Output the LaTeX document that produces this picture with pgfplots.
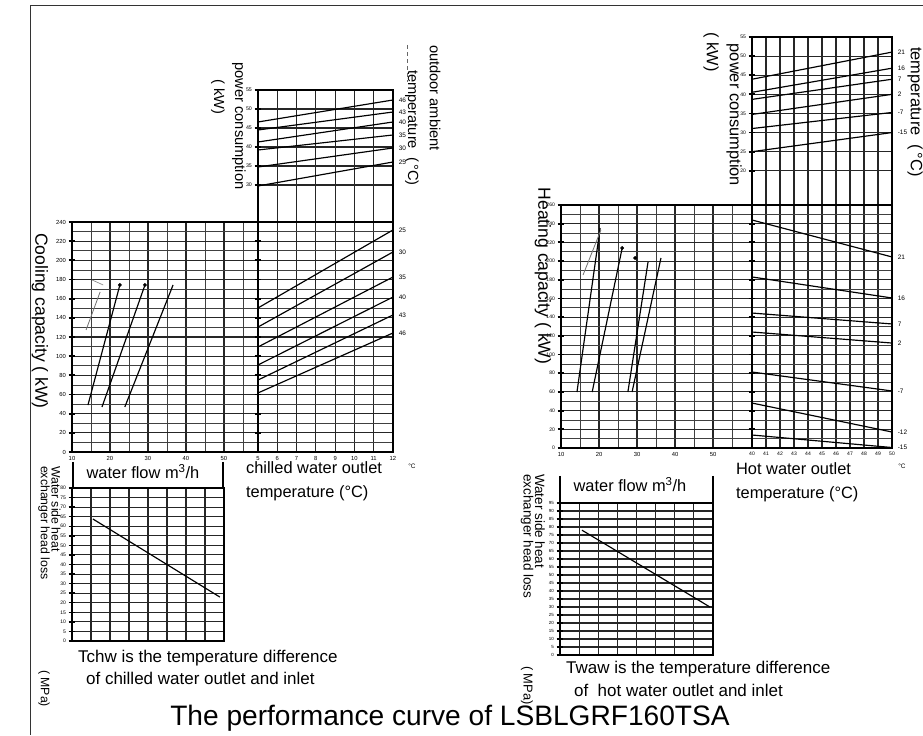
\documentclass[border=0pt]{standalone}
\usepackage{pgfplots}
\pgfplotsset{compat=1.18}
\usepackage{fontspec}
\setmainfont{Liberation Sans}
\newcommand\fs[1]{\fontsize{#1}{#1}\selectfont}
\tikzset{lab/.style={anchor=west, font=\fs{5.5}, xshift=0.5mm}}
\pgfplotsset{
  panel/.style={
    scale only axis, anchor=south west,
    axis line style={black, line width=1.1pt},
    grid=both,
    major grid style={black!85, line width=0.9pt},
    minor grid style={black!75, line width=0.55pt},
    tick align=center,
    major tick length=2mm,
    minor tick length=0pt,
    xtick style={draw=none},
    ytick style={black, line width=1.6pt},
    ytick pos=left, xtick pos=bottom,
    tick label style={font=\fs{5}},
    xticklabel style={yshift=0.9mm},
    yticklabel style={xshift=0.4mm},
    /pgf/number format/assume math mode=true,
    clip=false,
  },
  curve/.style={black, line width=1pt, no marks},
}
\begin{document}
\begin{tikzpicture}
% ---------- cooling capacity vs water flow ----------
\begin{axis}[panel, at={(21.6mm,84.9mm)}, width=55.8mm, height=69mm,
  xmin=10, xmax=58.95, ymin=0, ymax=240,
  xtick={10,20,...,50}, minor xtick={15,25,...,55},
  ytick={0,20,...,240}, minor ytick={10,30,...,230}]
  \addplot[curve] coordinates {(14.2,49) (22.6,174.3)};
  \addplot[curve] coordinates {(17.9,47) (29.2,174.3)};
  \addplot[curve] coordinates {(23.9,47) (36.6,174.3)};
  \addplot[black!55, line width=0.7pt] coordinates {(13.7,127.3) (17.4,167)};
  \addplot[black!45, line width=0.6pt] coordinates {(15.3,179.5) (18.2,174.3)};
  \addplot[only marks, mark=*, mark size=1.4pt, black] coordinates {(22.6,174.3) (29.2,174.3)};
\end{axis}
% ---------- cooling capacity vs chilled water outlet temperature ----------
\begin{axis}[panel, at={(77.4mm,84.9mm)}, width=40.5mm, height=69mm,
  xmin=5, xmax=12, ymin=0, ymax=240,
  xtick={5,...,12},
  ytick={0,20,...,240}, minor ytick={10,30,...,230}, yticklabels={}]
  \addplot[curve] coordinates {(5,150.3) (12,231.7)};
  \addplot[curve] coordinates {(5,130.4) (12,208.7)};
  \addplot[curve] coordinates {(5,109.6) (12,182.6)};
  \addplot[curve] coordinates {(5,90.8) (12,161.7)};
  \addplot[curve] coordinates {(5,75.1) (12,143.0)};
  \addplot[curve] coordinates {(5,61.6) (12,124.2)};
  \node[lab] at (axis cs:12,231.7) {25};
  \node[lab] at (axis cs:12,208.7) {30};
  \node[lab] at (axis cs:12,182.6) {35};
  \node[lab] at (axis cs:12,161.7) {40};
  \node[lab] at (axis cs:12,143.0) {43};
  \node[lab] at (axis cs:12,124.2) {46};
\end{axis}
% ---------- cooling power consumption ----------
\begin{axis}[panel, at={(77.4mm,153.9mm)}, width=40.5mm, height=39.6mm,
  xmin=5, xmax=12, ymin=20.26, ymax=55,
  xtick={5,...,12}, xticklabels={},
  ytick={30,35,...,55}, yticklabel style={font=\fs{4.5}}]
  \addplot[curve] coordinates {(5,46.58) (12,52.37)};
  \addplot[curve] coordinates {(5,44.47) (12,49.21)};
  \addplot[curve] coordinates {(5,41.32) (12,46.58)};
  \addplot[curve] coordinates {(5,39.21) (12,43.16)};
  \addplot[curve] coordinates {(5,34.74) (12,39.74)};
  \addplot[curve] coordinates {(5,29.74) (12,36.05)};
  \node[lab] at (axis cs:12,52.37) {46};
  \node[lab] at (axis cs:12,49.21) {43};
  \node[lab] at (axis cs:12,46.58) {40};
  \node[lab] at (axis cs:12,43.16) {35};
  \node[lab] at (axis cs:12,39.74) {30};
  \node[lab] at (axis cs:12,36.05) {25};
\end{axis}
% ---------- cooling head loss ----------
\begin{axis}[panel, at={(21.6mm,28.2mm)}, width=45.6mm, height=45.9mm,
  xmin=10, xmax=50, ymin=0, ymax=80,
  xtick={10,15,...,50}, xticklabels={},
  ytick={0,5,...,80}, ytick style={black, line width=1.2pt},
  yticklabel style={font=\fs{4.3}}]
  \addplot[curve] coordinates {(15.5,63.8) (48.9,23.0)};
\end{axis}
% ---------- heating capacity vs water flow ----------
\begin{axis}[panel, at={(168.3mm,86.1mm)}, width=57.3mm, height=72.9mm,
  xmin=10, xmax=60.26, ymin=0, ymax=260,
  xtick={10,20,...,50}, minor xtick={15,25,...,55},
  ytick={0,20,...,260}, minor ytick={10,30,...,250},
  yticklabel style={font=\fs{4.3}}]
  \addplot[curve] coordinates {(14.2,59.9) (20.3,235.4)};
  \addplot[black!55, line width=0.7pt] coordinates {(15.8,185.1) (20.5,233.3)};
  \addplot[curve] coordinates {(18.2,59.9) (26.1,214.0)};
  \addplot[curve] coordinates {(27.6,59.9) (32.9,199.0)};
  \addplot[curve] coordinates {(28.7,59.9) (36.3,203.3)};
  \addplot[only marks, mark=*, mark size=1.4pt, black] coordinates {(26.1,214.0) (29.5,203.3)};
\end{axis}
% ---------- heating capacity vs hot water outlet temperature ----------
\begin{axis}[panel, at={(225.6mm,86.1mm)}, width=42mm, height=72.9mm,
  xmin=40, xmax=50, ymin=0, ymax=260,
  xtick={40,...,50}, xticklabel style={font=\fs{4.3}},
  ytick={0,20,...,260}, minor ytick={10,30,...,250}, yticklabels={}]
  \addplot[curve] coordinates {(40,243.95) (50,204.4)};
  \addplot[curve] coordinates {(40,183.0) (50,160.5)};
  \addplot[curve] coordinates {(40,144.4) (50,132.7)};
  \addplot[curve] coordinates {(40,124.1) (50,112.3)};
  \addplot[curve] coordinates {(40,81.3) (50,61.0)};
  \addplot[curve] coordinates {(40,48.1) (50,17.1)};
  \addplot[curve] coordinates {(40,13.9) (50,0.5)};
  \node[lab] at (axis cs:50,204.4) {21};
  \node[lab] at (axis cs:50,160.5) {16};
  \node[lab] at (axis cs:50,132.7) {7};
  \node[lab] at (axis cs:50,112.3) {2};
  \node[lab] at (axis cs:50,61.0) {-7};
  \node[lab] at (axis cs:50,17.1) {-12};
  \node[lab] at (axis cs:50,0.5) {-15};
\end{axis}
% ---------- heating power consumption ----------
\begin{axis}[panel, at={(225.6mm,159mm)}, width=42mm, height=50.4mm,
  xmin=40, xmax=50, ymin=11.05, ymax=55,
  xtick={40,...,50}, xticklabels={},
  ytick={20,25,...,55}, yticklabel style={font=\fs{4.3}}]
  \addplot[curve] coordinates {(40,43.95) (50,51.05)};
  \addplot[curve] coordinates {(40,40.53) (50,46.84)};
  \addplot[curve] coordinates {(40,38.68) (50,43.95)};
  \addplot[curve] coordinates {(40,34.74) (50,40.0)};
  \addplot[curve] coordinates {(40,31.05) (50,35.26)};
  \addplot[curve] coordinates {(40,25.0) (50,30.0)};
  \node[lab] at (axis cs:50,51.05) {21};
  \node[lab] at (axis cs:50,46.84) {16};
  \node[lab] at (axis cs:50,43.95) {7};
  \node[lab] at (axis cs:50,40.0) {2};
  \node[lab] at (axis cs:50,35.26) {-7};
  \node[lab] at (axis cs:50,30.0) {-15};
\end{axis}
% ---------- heating head loss ----------
\begin{axis}[panel, at={(168mm,24mm)}, width=45.9mm, height=45.6mm,
  xmin=10, xmax=50, ymin=0, ymax=95,
  xtick={10,15,...,50}, xticklabels={},
  ytick={0,5,...,95}, ytick style={black, line width=1.2pt},
  yticklabel style={font=\fs{3.8}}]
  \addplot[curve] coordinates {(15.75,78) (49.2,30)};
\end{axis}
% ---------- texts and frame (pixel coordinates) ----------
\begin{scope}[x=0.3mm, y=-0.3mm, yshift=220.5mm]
  \draw[black!80, line width=0.8pt] (30,735) -- (30,5) -- (923,5);
  \draw[black, line width=1pt] (73,462) -- (73,488) (223,462) -- (223,488);
  \draw[black, line width=1pt] (560,476) -- (560,503) (713,476) -- (713,503);
  \draw[black!60, line width=0.6pt, dashed] (407,45) -- (407,82);
  % left half
  \node[rotate=-90, font=\fs{15}] at (40,321) {Cooling capacity ( kW)};
  \node[rotate=-90, font=\fs{12.5}] at (239,126) {power consumption};
  \node[rotate=-90, font=\fs{12.5}] at (218,97) {( kW)};
  \node[rotate=-90, font=\fs{12.5}] at (435,98) {outdoor ambient};
  \node[rotate=-90, font=\fs{12.5}] at (412,128) {temperature \ (\,°C)};
  \node[font=\fs{14}] at (143,472) {water flow m\textsuperscript{3}/h};
  \node[anchor=west, font=\fs{14}] at (242,468) {chilled water outlet};
  \node[anchor=west, font=\fs{14}] at (242,493) {temperature (°C)};
  \node[font=\fs{5.5}] at (412,466) {°C};
  \node[rotate=-90, anchor=west, font=\fs{10.5}] at (56,462) {Water side heat};
  \node[rotate=-90, anchor=west, font=\fs{10.5}] at (44,462) {exchanger head loss};
  \node[rotate=-90, anchor=west, font=\fs{10.5}] at (44,666) {( MPa)};
  \node[anchor=west, font=\fs{14.5}] at (74,658) {Tchw is the temperature difference};
  \node[anchor=west, font=\fs{14.5}] at (82,678) {of chilled water outlet and inlet};
  % right half
  \node[rotate=-90, font=\fs{15}] at (543,276) {Heating capacity ( kW)};
  \node[rotate=-90, font=\fs{14}] at (734,115) {power consumption};
  \node[rotate=-90, font=\fs{14}] at (711,52) {( kW)};
  \node[rotate=-90, font=\fs{14}] at (915,112) {temperature \ (\,°C)};
  \node[font=\fs{14}] at (630,485) {water flow m\textsuperscript{3}/h};
  \node[anchor=west, font=\fs{14}] at (732,469) {Hot water outlet};
  \node[anchor=west, font=\fs{14}] at (732,494) {temperature (°C)};
  \node[font=\fs{5.5}] at (902,466) {°C};
  \node[rotate=-90, anchor=west, font=\fs{11.5}] at (540,470) {Water side heat};
  \node[rotate=-90, anchor=west, font=\fs{11.5}] at (527,470) {exchanger head loss};
  \node[rotate=-90, anchor=west, font=\fs{11}] at (527,662) {( MPa)};
  \node[anchor=west, font=\fs{14.5}] at (562,669) {Twaw is the temperature difference};
  \node[anchor=west, font=\fs{14.5}] at (570,690) {of \ hot water outlet and inlet};
  % title
  \node[font=\fs{24}] at (450,718) {The performance curve of LSBLGRF160TSA};
\end{scope}
\pgfresetboundingbox
\path[use as bounding box] (0,0) rectangle (276.9mm,220.5mm);
\end{tikzpicture}
\end{document}
